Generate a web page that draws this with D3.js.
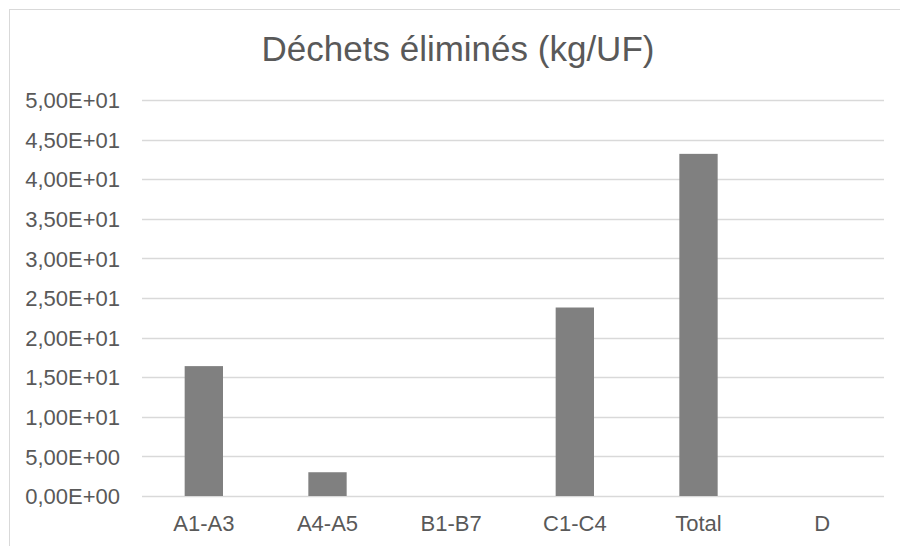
<!DOCTYPE html>
<html>
<head>
<meta charset="utf-8">
<script src="https://cdn.jsdelivr.net/npm/d3@7"></script>
<style>
  html, body { margin: 0; padding: 0; background: #fff; }
  svg { display: block; }
</style>
</head>
<body>
<svg id="chart" width="900" height="546"></svg>
<script>
const categories = ["A1-A3", "A4-A5", "B1-B7", "C1-C4", "Total", "D"];
const values = [16.4, 3.0, 0, 23.8, 43.2, 0];
const yTicks = [0, 5, 10, 15, 20, 25, 30, 35, 40, 45, 50];
const title = "Déchets éliminés (kg/UF)";

const fmt = v => {
  const s = v.toExponential(2).replace(".", ",");
  return s.replace(/e([+-])(\d+)$/, (m, sg, d) => "E" + sg + d.padStart(2, "0"));
};

const svg = d3.select("#chart");
const font = "'Liberation Sans', Arial, sans-serif";
const textColor = "#595959";

// chart border
svg.append("rect")
  .attr("x", 9.5).attr("y", 9.5)
  .attr("width", 897).attr("height", 560)
  .attr("fill", "#fff").attr("stroke", "#d9d9d9").attr("stroke-width", 1);

const plot = { left: 142, right: 884, top: 100, bottom: 496 };

const x = d3.scaleBand().domain(categories)
  .range([plot.left, plot.right]).paddingInner(0.69).paddingOuter(0.345);
const y = d3.scaleLinear().domain([0, 50]).range([plot.bottom, plot.top]);

// gridlines
svg.append("g")
  .selectAll("line").data(yTicks).join("line")
  .attr("x1", plot.left).attr("x2", plot.right)
  .attr("y1", d => Math.round(y(d)) + 0.5).attr("y2", d => Math.round(y(d)) + 0.5)
  .attr("stroke", "#d9d9d9").attr("stroke-width", 1.3);

// y axis labels
const yAxis = d3.axisLeft(y).tickValues(yTicks).tickFormat(fmt).tickSize(0).tickPadding(0);
const gy = svg.append("g").attr("transform", `translate(120,0)`).call(yAxis);
gy.select(".domain").remove();
gy.selectAll("text").attr("font-family", font).attr("font-size", 22).attr("fill", textColor)
  .attr("dy", "0.35em");

// bars
svg.append("g").selectAll("rect").data(categories).join("rect")
  .attr("x", d => x(d))
  .attr("width", x.bandwidth())
  .attr("y", (d, i) => y(values[i]))
  .attr("height", (d, i) => y(0) - y(values[i]))
  .attr("fill", "#808080");

// x axis labels
const xAxis = d3.axisBottom(x).tickSize(0).tickPadding(0);
const gx = svg.append("g").attr("transform", `translate(0,531)`).call(xAxis);
gx.select(".domain").remove();
gx.selectAll("text").attr("font-family", font).attr("font-size", 22).attr("fill", textColor)
  .attr("y", 0).attr("dy", 0);

// title
svg.append("text")
  .attr("x", 458).attr("y", 61)
  .attr("text-anchor", "middle")
  .attr("font-family", font).attr("font-size", 35)
  .attr("fill", textColor)
  .text(title);
</script>
</body>
</html>
